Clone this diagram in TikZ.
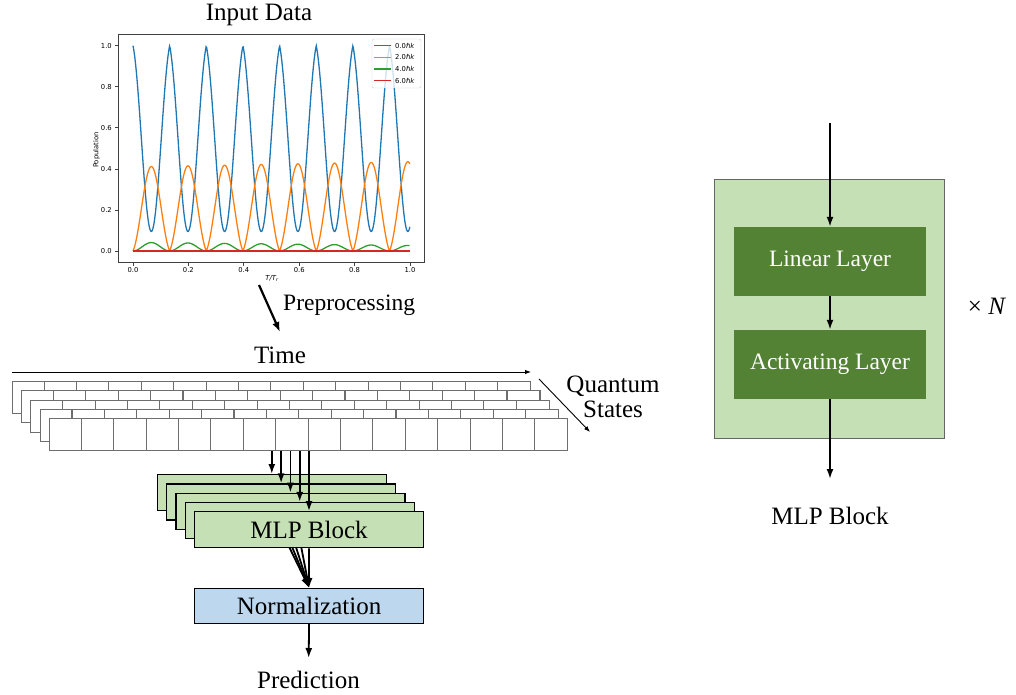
\documentclass[tikz,border=0pt]{standalone}
\usepackage{fontspec}
\setmainfont{Liberation Serif}
\newfontfamily\plotfont{DejaVu Sans}
\usetikzlibrary{arrows.meta,backgrounds,calc}
\definecolor{lgreen}{HTML}{C5E0B4}
\definecolor{dgreen}{HTML}{548235}
\definecolor{lblue}{HTML}{BDD7EE}
\definecolor{mplblue}{HTML}{1F77B4}
\definecolor{mplorange}{HTML}{FF7F0E}
\definecolor{mplgreen}{HTML}{2CA02C}
\definecolor{mplred}{HTML}{D62728}
\definecolor{gridgray}{HTML}{6E6E6E}
\definecolor{axcol}{HTML}{404040}
\begin{document}
\begin{tikzpicture}[x=1pt,y=-1pt,
  declare function={
    sv(\t)=abs(sin(180*\t/0.1323));
    gf(\t)=0.3*sv(\t)+0.7*sv(\t)*sv(\t);
    orf(\t)=(0.41+0.025*\t)*gf(\t);
    grf(\t)=(0.042-0.015*\t)*sv(\t)*sv(\t);
    blf(\t)=1-0.905*gf(\t);
  },
  txt/.style={font=\fontsize{25}{28}\selectfont, inner sep=0pt},
  ticklab/.style={font=\plotfont\fontsize{6.8}{7.5}\selectfont, inner sep=0pt},
  layerbox/.style={draw=gridgray, line width=1.1pt, fill=white, minimum width=518.4pt, minimum height=32pt, anchor=north west, inner sep=0pt},
  mlpbox/.style={draw=black, line width=1.2pt, fill=lgreen, minimum width=229pt, minimum height=36pt, anchor=north west, inner sep=0pt, font=\fontsize{25}{28}\selectfont},
  normbox/.style={draw=black, line width=1.2pt, fill=lblue, minimum width=229pt, minimum height=35pt, anchor=north west, inner sep=0pt, font=\fontsize{25}{28}\selectfont},
  darkbox/.style={fill=dgreen, text=white, minimum width=192pt, minimum height=69pt, inner sep=0pt, font=\fontsize{23.5}{26}\selectfont},
  arr/.style={line width=1.8pt, -{Latex[length=10pt,width=7pt]}},
  thinarr/.style={line width=0.9pt, -{Latex[length=6pt,width=4.5pt]}},
  curve/.style={line width=1.3pt},
]
\useasboundingbox (0,0) rectangle (1016,695);

% ---------------- plot ----------------
\node[txt] (title) at (259,15) {Input Data};
\draw[mplblue, curve] plot[domain=0:1, samples=500] ({133+277*\x},{251-205.3*blf(\x)});
\draw[mplorange, curve] plot[domain=0:1, samples=500] ({133+277*\x},{251-205.3*orf(\x)});
\draw[mplgreen, curve] plot[domain=0:1, samples=400] ({133+277*\x},{251-205.3*grf(\x)});
\draw[mplred, line width=1.4pt] (133,251) -- (410,251);
\draw[axcol, line width=0.8pt] (118,34) rectangle (424,262);
\foreach \t in {0.0,0.2,0.4,0.6,0.8,1.0} {
  \draw[axcol, line width=0.7pt] ({133+277*\t},262) -- ++(0,3.5);
  \node[ticklab] at ({133+277*\t},270) {\t};
}
\foreach \v in {0.0,0.2,0.4,0.6,0.8,1.0} {
  \draw[axcol, line width=0.7pt] (118,{251-205.3*\v}) -- ++(-3.5,0);
  \node[ticklab, anchor=east] at (112,{251-205.3*\v}) {\v};
}
\node[ticklab, rotate=90] (ylab) at (96.5,150) {Population};
\node[ticklab] (xlab) at (272,279) {\itshape T/T\textsubscript{r}};
\draw[rounded corners=1.5pt, draw=gray!40, fill=white, fill opacity=0.8] (372,39) rectangle (421,88);
\draw[mplblue, curve] (374,45.7) -- (391,45.7);
\draw[mplorange, curve] (374,57.4) -- (391,57.4);
\draw[mplgreen, curve] (374,69.1) -- (391,69.1);
\draw[mplred, curve] (374,80.8) -- (391,80.8);
\node[ticklab, anchor=west] (lg0) at (395,45.7) {0.0\textit{ℏk}};
\node[ticklab, anchor=west] (lg1) at (395,57.4) {2.0\textit{ℏk}};
\node[ticklab, anchor=west] (lg2) at (395,69.1) {4.0\textit{ℏk}};
\node[ticklab, anchor=west] (lg3) at (395,80.8) {6.0\textit{ℏk}};

% ---------------- preprocessing ----------------
\coordinate (pp1) at (259,285);
\coordinate (pp2) at (280,332);
\draw[line width=2.2pt, -{Latex[length=10pt,width=7.5pt]}] (pp1) -- (pp2);
\node[txt, anchor=west, font=\fontsize{23.5}{26}\selectfont] (prep) at (283,305) {Preprocessing};

% ---------------- grid of states ----------------
\node[txt] (time) at (280,355) {Time};
\coordinate (t1) at (12,372);
\coordinate (t2) at (531,372);
\draw[thinarr] (t1) -- (t2);
\foreach \i in {0,...,4} {
  \node[layerbox] (L\i) at ({11.7+9.3*\i},{381+9.3*\i}) {};
  \foreach \j in {1,...,15}
    \draw[gridgray, line width=1.1pt] ($(L\i.north west)+(32.4*\j,0)$) -- ($(L\i.south west)+(32.4*\j,0)$);
}
\coordinate (q1) at (539,379);
\coordinate (q2) at (590,432);
\draw[thinarr] (q1) -- (q2);
\node[txt, align=center] (qs) at (613,397) {Quantum\\[-3pt]States};

% ---------------- MLP stack ----------------
\foreach \i in {0,...,3}
  \node[mlpbox] (M\i) at ({156.7+9.3*\i},{474+9.3*\i}) {};
\node[mlpbox] (M4) at ({156.7+9.3*4},{474+9.3*4}) {MLP Block};
\foreach \i in {0,...,4}
  \draw[arr] (M\i.north |- L4.south) -- (M\i.north);
\node[normbox] (norm) at (194,588) {Normalization};
\begin{pgfonlayer}{background}
  \foreach \i in {0,...,4}
    \draw[arr] (M\i.south) -- (norm.north);
\end{pgfonlayer}
\node[txt] (pred) at (308.5,680) {Prediction};
\draw[arr, shorten >=13pt] (norm.south) -- (pred.north);

% ---------------- right MLP block detail ----------------
\node[draw=gray!80!black, line width=0.8pt, fill=lgreen, minimum width=230pt, minimum height=259pt, anchor=north west, inner sep=0pt] (outer) at (714,179) {};
\node[darkbox] (lin) at (830,261.5) {Linear Layer};
\node[darkbox] (act) at (830,364.5) {Activating Layer};
\coordinate (rin) at (830,123);
\draw[arr] (rin) -- (lin.north);
\draw[arr] (lin.south) -- (act.north);
\node[txt] (mlpout) at (830,516) {MLP Block};
\draw[arr, shorten >=28pt] (act.south) -- (mlpout.north);
\node[txt] (xn) at (987,306) {× \textit{N}};
\end{tikzpicture}
\end{document}
